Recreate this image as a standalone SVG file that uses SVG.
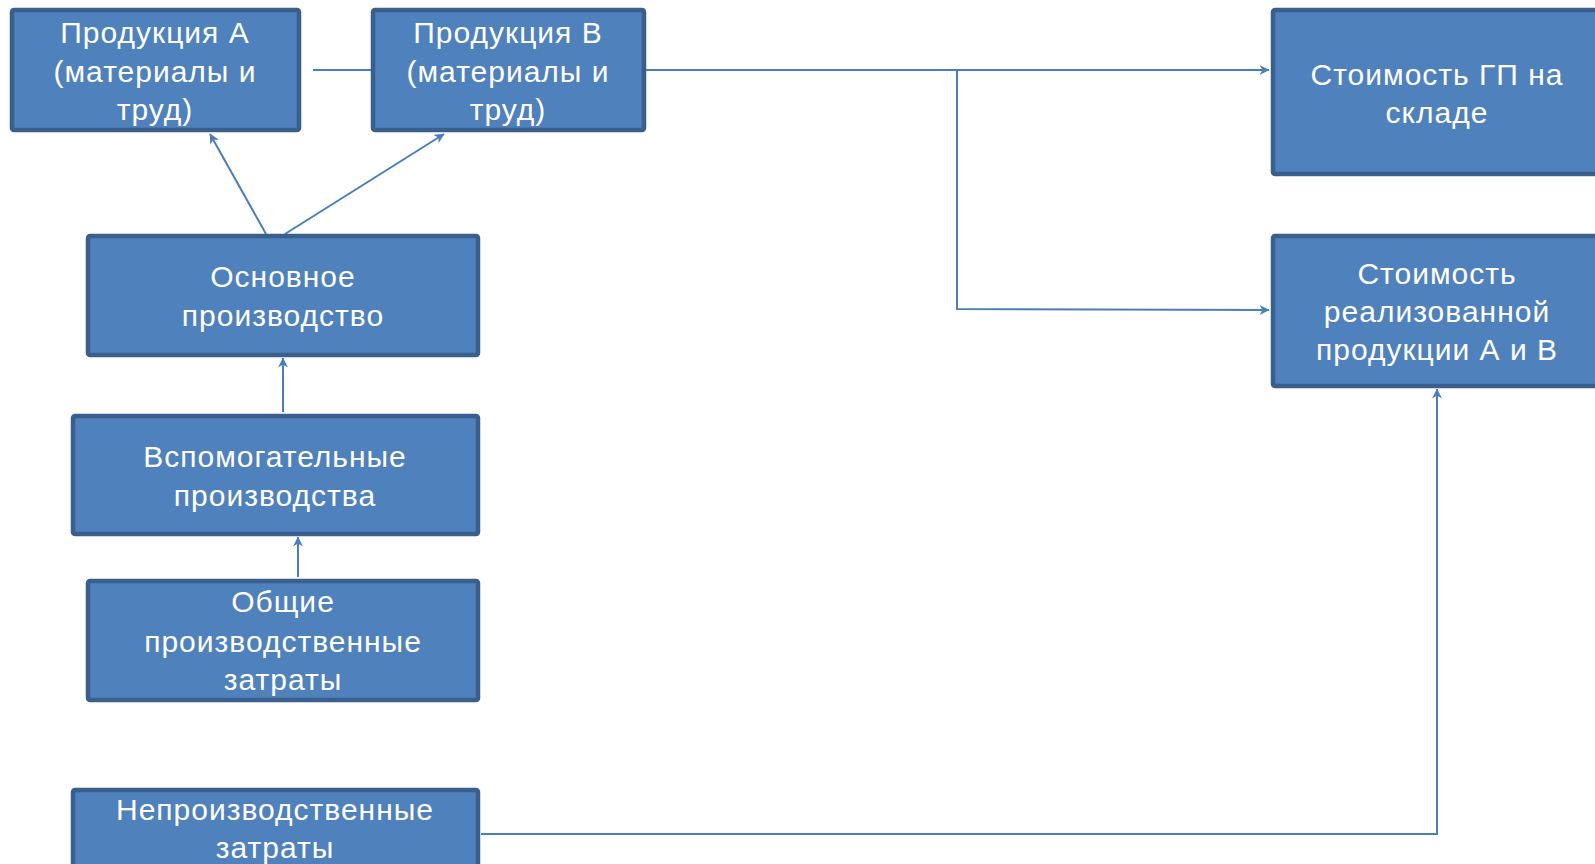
<svg xmlns="http://www.w3.org/2000/svg" width="1595" height="864" viewBox="0 0 1595 864">
<style>
.box{fill:#4f81bd;stroke:#3a5f8c;stroke-width:4.5;}
.t{font-family:"Liberation Sans",Arial,sans-serif;font-size:30px;letter-spacing:1px;fill:#ffffff;text-anchor:middle;}
.c{fill:none;stroke:#4a7ebb;stroke-width:2;}
</style>
<defs>
<marker id="arr" viewBox="0 0 10 10" refX="9.5" refY="5" markerWidth="5" markerHeight="5" orient="auto" markerUnits="strokeWidth">
<path d="M0,0 L10,5 L0,10 L3,5 Z" fill="#4a7ebb"/>
</marker>
</defs>
<rect width="1595" height="864" fill="#ffffff"/>
<g id="connectors">
<line class="c" x1="313" y1="70" x2="371" y2="70"/>
<line class="c" x1="645" y1="70" x2="1269" y2="70" marker-end="url(#arr)"/>
<polyline class="c" points="957,70 957,309 1269,310" marker-end="url(#arr)"/>
<line class="c" x1="266" y1="234" x2="210" y2="134" marker-end="url(#arr)"/>
<line class="c" x1="285" y1="234" x2="444" y2="134" marker-end="url(#arr)"/>
<line class="c" x1="283" y1="412" x2="283" y2="358" marker-end="url(#arr)"/>
<line class="c" x1="298" y1="577" x2="298" y2="537" marker-end="url(#arr)"/>
<polyline class="c" points="481,834 1437,834 1437,389" marker-end="url(#arr)"/>
</g>
<g id="node-a">
<rect class="box" x="12" y="10" width="287" height="120" rx="2"/>
<text class="t" x="155" y="43">Продукция А</text>
<text class="t" x="155" y="82">(материалы и</text>
<text class="t" x="155" y="120">труд)</text>
</g>
<g id="node-b">
<rect class="box" x="373" y="10" width="271" height="120" rx="2"/>
<text class="t" x="508" y="43">Продукция В</text>
<text class="t" x="508" y="82">(материалы и</text>
<text class="t" x="508" y="120">труд)</text>
</g>
<g id="node-gp">
<rect class="box" x="1273" y="10" width="330" height="164" rx="2"/>
<text class="t" x="1437" y="85">Стоимость ГП на</text>
<text class="t" x="1437" y="123">складе</text>
</g>
<g id="node-real">
<rect class="box" x="1273" y="236" width="330" height="150" rx="2"/>
<text class="t" x="1437" y="284">Стоимость</text>
<text class="t" x="1437" y="322">реализованной</text>
<text class="t" x="1437" y="360">продукции А и В</text>
</g>
<g id="node-main">
<rect class="box" x="88" y="236" width="390" height="119" rx="2"/>
<text class="t" x="283" y="287">Основное</text>
<text class="t" x="283" y="326">производство</text>
</g>
<g id="node-aux">
<rect class="box" x="73" y="416" width="405" height="118" rx="2"/>
<text class="t" x="275" y="467">Вспомогательные</text>
<text class="t" x="275" y="506">производства</text>
</g>
<g id="node-overhead">
<rect class="box" x="88" y="581" width="390" height="119" rx="2"/>
<text class="t" x="283" y="612">Общие</text>
<text class="t" x="283" y="652">производственные</text>
<text class="t" x="283" y="690">затраты</text>
</g>
<g id="node-nonprod">
<rect class="box" x="73" y="790" width="405" height="90" rx="2"/>
<text class="t" x="275" y="820">Непроизводственные</text>
<text class="t" x="275" y="858">затраты</text>
</g>
</svg>
